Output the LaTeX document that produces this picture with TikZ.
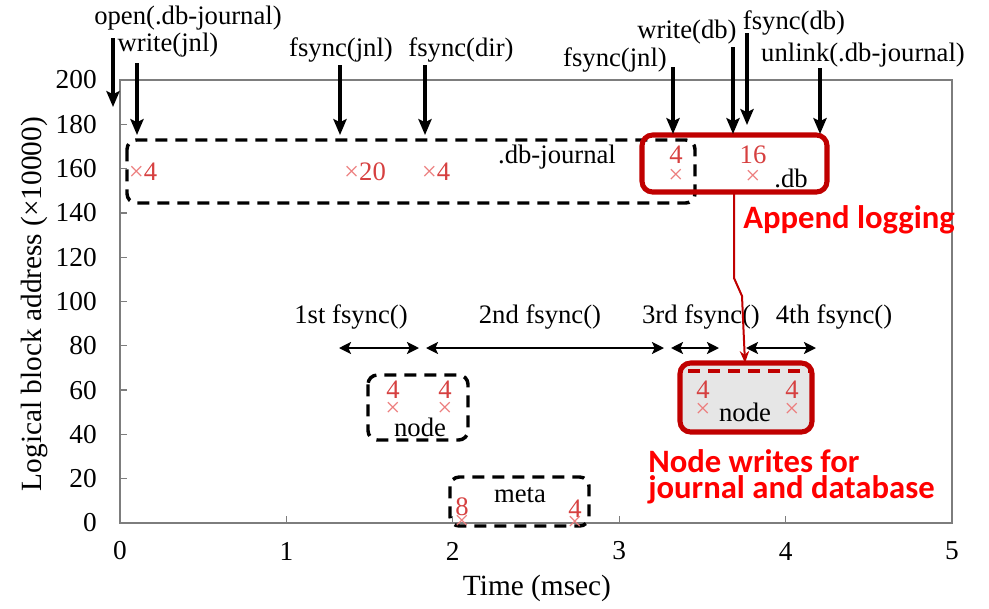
\documentclass[tikz,border=0pt]{standalone}
\usepackage{fontspec}
\setmainfont{Liberation Serif}
\newfontfamily\calibri{Carlito}
\usetikzlibrary{arrows.meta}
\definecolor{boxred}{RGB}{192,0,0}
\definecolor{notered}{RGB}{255,0,0}
\definecolor{marknum}{RGB}{214,64,64}
\definecolor{markx}{RGB}{236,125,125}
\definecolor{framegray}{RGB}{125,125,125}
\definecolor{nodefill}{RGB}{230,230,230}
\tikzset{
  lbl/.style={font=\fontsize{20}{22}\selectfont, inner sep=0pt},
  ticklbl/.style={font=\fontsize{20.5}{22}\selectfont, inner sep=0pt},
  axlbl/.style={font=\fontsize{22}{24}\selectfont, inner sep=0pt},
  num/.style={text=marknum, font=\fontsize{20}{22}\selectfont, inner sep=0pt, anchor=base},
  xmark/.style={text=markx, font=\fontsize{20}{22}\selectfont, inner sep=0pt, anchor=base},
  note/.style={text=notered, font=\calibri\bfseries\fontsize{24.5}{19.5}\selectfont, inner sep=0pt, align=left},
  callarrow/.style={line width=2.3pt, -{Stealth[length=12pt,width=10pt,inset=2.5pt]}},
  spanarrow/.style={line width=2.1pt, {Stealth[length=9pt,width=9pt,inset=2pt]}-{Stealth[length=9pt,width=9pt,inset=2pt]}},
  dashbox/.style={line width=2.6pt, dash pattern=on 9pt off 6pt, rounded corners=7pt},
  redbox/.style={line width=3.8pt, draw=boxred, rounded corners=8pt},
}
\begin{document}
\begin{tikzpicture}[x=0.75pt, y=-0.75pt]
    \useasboundingbox (0,0) rectangle (989,608);
    % Frame
        \coordinate (fNW) at (120,80);
        \coordinate (fSE) at (952,523);
        \draw[framegray, line width=1.1pt] (fNW) rectangle (fSE);
    % Ticks and tick labels
        \foreach \v [count=\i from 0] in {0,20,...,200}
            {\draw[framegray, line width=1pt] (120,523-44.3*\i) -- (127,523-44.3*\i);
             \node[ticklbl, anchor=east] (yt\i) at (97,523-44.3*\i) {\v};}
        \foreach \t in {0,...,5}
            {\node[ticklbl] (xt\t) at (120+166.4*\t,551) {\t};}
        \foreach \t in {1,...,4}
            {\draw[framegray, line width=1pt] (120+166.4*\t,523) -- (120+166.4*\t,516);}
    % Axis labels
        \node[axlbl] (xlab) at (537,588) {Time (msec)};
        \node[axlbl, rotate=90] (ylab) at (34,304) {Logical block address (×10000)};
    % Node box (db), filled
        \coordinate (ndNW) at (680,363);
        \coordinate (ndSE) at (812,432);
        \fill[nodefill, rounded corners=8pt] (ndNW) rectangle (ndSE);
    % Dashed boxes
        \draw[dashbox] (127,140) rectangle (695,203); % journal
        \draw[dashbox] (368,375) rectangle (468,440); % node 1
        \draw[dashbox] (450,477) rectangle (589,526); % meta
        \draw[dashbox, boxred] (688,371) -- (810,371); % node 2
    % Red boxes
        \coordinate (dbNW) at (642,135);
        \coordinate (dbSE) at (827,192);
        \draw[redbox] (dbNW) rectangle (dbSE);
        \draw[redbox] (ndNW) rectangle (ndSE);
    % Box texts
        \node[lbl] (jnltxt) at (557,157) {.db-journal};
        \node[lbl] (dbtxt) at (791,178) {.db};
        \node[lbl] (node1txt) at (420,427) {node};
        \node[lbl] (node2txt) at (745,412) {node};
        \node[lbl] (metatxt) at (520,495) {meta};
    % Marks (at baselines)
        \node[num] (m1) at (143,180) {{\color{markx}×}4};
        \node[num] (m2) at (365,180) {{\color{markx}×}20};
        \node[num] (m3) at (436,180) {{\color{markx}×}4};
        \node[num] (m4) at (676,163) {4};    \node[xmark] (x4) at (676,183) {×};
        \node[num] (m5) at (753,163) {16};   \node[xmark] (x5) at (753,184) {×};
        \node[num] (m6) at (393,398) {4};    \node[xmark] (x6) at (393,416) {×};
        \node[num] (m7) at (445,398) {4};    \node[xmark] (x7) at (445,416) {×};
        \node[num] (m8) at (703,398) {4};    \node[xmark] (x8) at (703,417) {×};
        \node[num] (m9) at (792,398) {4};    \node[xmark] (x9) at (792,417) {×};
        \node[num] (m10) at (462,515) {8};   \node[xmark] (x10) at (462,529) {×};
        \node[num] (m11) at (575,517) {4};   \node[xmark] (x11) at (575,530) {×};
    % Calls
        \node[lbl] (open) at (188,18) {open(.db-journal)};
        \node[lbl] (wjnl) at (168,45) {write(jnl)};
        \node[lbl] (fjnlA) at (341,50) {fsync(jnl)};
        \node[lbl] (fdir) at (461,50) {fsync(dir)};
        \node[lbl] (fjnlB) at (615,60) {fsync(jnl)};
        \node[lbl] (wdb) at (687,32) {write(db)};
        \node[lbl] (fdb) at (794,23) {fsync(db)};
        \node[lbl] (unlink) at (863,55) {unlink(.db-journal)};
        \draw[callarrow] (113,38) -- (113,107); % open
        \draw[callarrow] (137,63) -- (137,135); % write jnl
        \draw[callarrow] (340,65) -- (340,135); % fsync jnl
        \draw[callarrow] (425,65) -- (425,135); % fsync dir
        \draw[callarrow] (673,67) -- (673,134); % fsync jnl
        \draw[callarrow] (733,47) -- (733,134); % write db
        \draw[callarrow] (747,33) -- (747,125); % fsync db
        \draw[callarrow] (820,68) -- (820,134); % unlink
    % fsync spans
        \node[lbl] (fs1) at (351,317) {1st fsync()};
        \node[lbl] (fs2) at (540,317) {2nd fsync()};
        \node[lbl] (fs3) at (701,317) {3rd fsync()};
        \node[lbl] (fs4) at (834,317) {4th fsync()};
        \draw[spanarrow] (339,348) -- (419,348);
        \draw[spanarrow] (426,348) -- (664,348);
        \draw[spanarrow] (671,348) -- (719,348);
        \draw[spanarrow] (746,348) -- (816,348);
    % Red notes
        \coordinate (dbout) at (734,192);
        \coordinate (ndin) at (745,363);
        \draw[boxred, line width=1.5pt, -{Stealth[length=9pt,width=7pt]}] (dbout) -- (734,278) -- (742,296) -- (ndin);
        \node[note, anchor=west] (append) at (743,220) {Append logging};
        \node[note, anchor=west] (nodew) at (648,477) {Node writes for\\journal and database};
\end{tikzpicture}
\end{document}
